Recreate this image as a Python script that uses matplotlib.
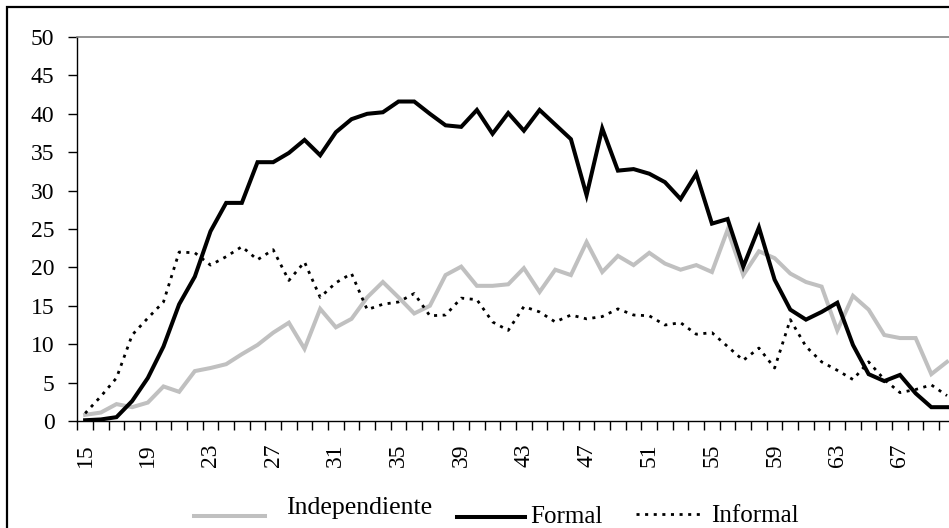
import numpy as np
import matplotlib
matplotlib.use('Agg')
import matplotlib.pyplot as plt
from matplotlib.lines import Line2D
from matplotlib.patches import Rectangle

plt.rcParams['font.family'] = ['Liberation Serif', 'DejaVu Serif']

# ============================================================
# DATA
# ============================================================
ages = list(range(15, 71))

independiente = [0.8, 1.1, 2.2, 1.8, 2.4, 4.5, 3.8, 6.5, 6.9, 7.4,
                 8.7, 9.9, 11.5, 12.8, 9.4, 14.6, 12.2, 13.3, 16.1, 18.1,
                 16.1, 14.0, 15.0, 19.0, 20.1, 17.6, 17.6, 17.8, 19.9, 16.8,
                 19.7, 19.0, 23.3, 19.4, 21.5, 20.3, 21.9, 20.5, 19.7, 20.3,
                 19.4, 24.9, 19.0, 22.1, 21.2, 19.2, 18.1, 17.5, 11.8, 16.3,
                 14.5, 11.2, 10.8, 10.8, 6.1, 7.7]

formal = [0.1, 0.2, 0.5, 2.6, 5.6, 9.7, 15.2, 18.8, 24.7, 28.4,
          28.4, 33.7, 33.7, 34.9, 36.6, 34.6, 37.6, 39.3, 40.0, 40.2,
          41.6, 41.6, 40.0, 38.5, 38.3, 40.5, 37.4, 40.1, 37.8, 40.5,
          38.6, 36.7, 29.4, 38.1, 32.6, 32.8, 32.2, 31.1, 28.9, 32.2,
          25.7, 26.3, 20.1, 25.2, 18.4, 14.5, 13.2, 14.2, 15.4, 9.9,
          6.1, 5.2, 6.0, 3.6, 1.8, 1.8]

informal = [1.0, 3.2, 5.6, 11.2, 13.4, 15.5, 22.0, 21.9, 20.3, 21.4,
            22.7, 21.0, 22.3, 18.3, 20.7, 16.1, 18.0, 19.2, 14.5, 15.2,
            15.5, 16.6, 13.7, 13.8, 16.0, 15.8, 12.9, 11.8, 14.9, 14.2,
            12.9, 13.8, 13.3, 13.6, 14.6, 13.8, 13.7, 12.5, 12.8, 11.3,
            11.5, 9.7, 7.9, 9.5, 6.9, 13.2, 9.7, 7.7, 6.6, 5.4,
            7.7, 5.4, 3.7, 4.1, 4.7, 3.3]

label_ages = list(range(15, 71, 4))

# ============================================================
# FIGURE
# ============================================================
W, H = 949, 528
fig = plt.figure(figsize=(W / 100, H / 100), dpi=100)

# plot area in pixels: left 77, top 37, bottom 421, 15.67 px per category
left_px, top_px, bot_px = 77.3, 37, 421
n = len(ages)
cat_px = 15.67
ax = fig.add_axes([left_px / W, 1 - bot_px / H,
                   n * cat_px / W, (bot_px - top_px) / H])

x = np.arange(n)
ax.plot(x, independiente, color='#c0c0c0', lw=2.9, solid_joinstyle='miter')
ax.plot(x, formal, color='black', lw=2.9, solid_joinstyle='miter')
ax.plot(x, informal, color='black', lw=2.0, linestyle=(0, (1.1, 2.0)))

ax.set_xlim(-0.5, n - 0.5)
ax.set_ylim(0, 50)
ax.set_yticks(np.arange(0, 51, 5))

# labels every 4 years, tick marks on category borders
ax.set_xticks([ages.index(a) for a in label_ages])
ax.set_xticklabels([str(a) for a in label_ages], rotation=90, fontsize=17)
ax.set_xticks(np.arange(n + 1) - 0.5, minor=True)
ax.tick_params(axis='x', which='major', length=0, pad=16)
ax.tick_params(axis='x', which='minor', length=6.5, width=1, direction='out',
               color='black')
ax.tick_params(axis='y', length=6.5, width=1, direction='out', pad=10,
               labelsize=17)

for s in ['left', 'bottom']:
    ax.spines[s].set_color('black')
    ax.spines[s].set_linewidth(1.0)
for s in ['top', 'right']:
    ax.spines[s].set_color('#808080')
    ax.spines[s].set_linewidth(1.2)

# ============================================================
# LEGEND (drawn by hand to follow the original layout)
# ============================================================
def fx(px):
    return px / W

def fy(py):
    return 1 - py / H

fig.add_artist(Line2D([fx(194), fx(265)], [fy(516), fy(516)],
                      color='#c0c0c0', lw=2.9, transform=fig.transFigure))
fig.text(fx(286), fy(514), 'Independiente', fontsize=18.5, va='baseline')
fig.add_artist(Line2D([fx(457), fx(525)], [fy(517), fy(517)],
                      color='black', lw=2.9, transform=fig.transFigure))
fig.text(fx(530), fy(523), 'Formal', fontsize=18, va='baseline')
fig.add_artist(Line2D([fx(636), fx(702)], [fy(514), fy(514)],
                      color='black', lw=2.0, linestyle=(0, (1.1, 2.0)),
                      transform=fig.transFigure))
fig.text(fx(711), fy(522), 'Informal', fontsize=18, va='baseline')

# chart frame
fig.add_artist(Rectangle((fx(7), -0.1), 1.2, fy(7) + 0.1, fill=False,
                         edgecolor='black', lw=1.6, transform=fig.transFigure))

plt.savefig('out.png', dpi=100)
